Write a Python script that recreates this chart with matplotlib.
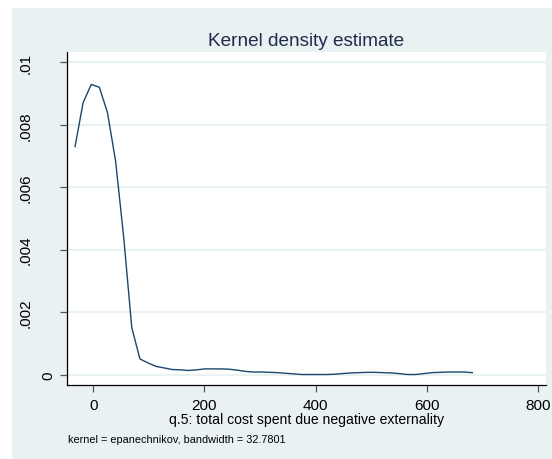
import matplotlib.pyplot as plt
from matplotlib.patches import Rectangle
from matplotlib.transforms import blended_transform_factory

plt.rcParams["font.family"] = ["Liberation Sans", "DejaVu Sans"]

# evaluation grid and estimated density (50 points)
grid_x = [-33.0, -18.4, -3.8, 10.8, 25.4, 40.0, 54.6, 69.2, 83.8, 98.4,
          113.0, 127.6, 142.2, 156.8, 171.4, 186.0, 200.6, 215.2, 229.8, 244.4,
          259.0, 273.6, 288.2, 302.8, 317.4, 332.0, 346.6, 361.2, 375.8, 390.4,
          405.0, 419.6, 434.2, 448.8, 463.4, 478.0, 492.6, 507.2, 521.8, 536.4,
          551.0, 565.6, 580.2, 594.8, 609.4, 624.0, 638.6, 653.2, 667.8, 682.4]
density = [0.00730, 0.00871, 0.00929, 0.00920, 0.00839, 0.00684, 0.00440, 0.00150, 0.00050, 0.00037,
           0.00026, 0.00021, 0.00016, 0.00015, 0.00013, 0.00015, 0.00018, 0.00018, 0.00018, 0.00017,
           0.00014, 0.00010, 0.00008, 0.00008, 0.00007, 0.00006, 0.00004, 0.00002, 0.00000, 0.00000,
           0.00000, 0.00000, 0.00001, 0.00003, 0.00005, 0.00006, 0.00007, 0.00007, 0.00006, 0.00005,
           0.00003, 0.00000, 0.00000, 0.00003, 0.00006, 0.00007, 0.00008, 0.00008, 0.00008, 0.00006]

xticks = [0, 200, 400, 600, 800]
yticks = [0, 0.002, 0.004, 0.006, 0.008, 0.01]
ylabels = ["0", ".002", ".004", ".006", ".008", ".01"]

bg = "#e9f1f3"
navy = "#1a476f"
W, H = 552, 460

fig = plt.figure(figsize=(W / 100, H / 100), dpi=100)
fig.patch.set_facecolor("white")
# graph region (starts a few pixels in from the top-left corner)
fig.patches.append(Rectangle((12 / W, 0), 1, 1 - 9 / H, transform=fig.transFigure,
                             facecolor=bg, edgecolor="none", zorder=-10))

ax_l, ax_r, ax_t, ax_b = 66.7, 546, 53.3, 385.7
ax = fig.add_axes([ax_l / W, 1 - ax_b / H, (ax_r - ax_l) / W, (ax_b - ax_t) / H])
ax.set_facecolor("white")

ax.plot(grid_x, density, color=navy, lw=1.0, zorder=3)

ax.set_xlim(-48, 815)
ax.set_ylim(-0.000326, 0.01032)

ax.set_xticks(xticks)
ax.set_xticklabels([str(v) for v in xticks])
ax.set_yticks(yticks)
ax.set_yticklabels([])

# vertical y labels, placed by hand (the short "0" sits closer to the axis)
ytrans = blended_transform_factory(ax.transAxes, ax.transData)
for y, lab in zip(yticks, ylabels):
    right_px = 55 if len(lab) == 1 else 32.5
    ax.text((right_px - ax_l) / (ax_r - ax_l), y, lab, transform=ytrans, rotation=90,
            ha="right", va="center", fontsize=11, clip_on=False)

for y in yticks:
    ax.axhline(y, color=bg, lw=1.6, zorder=1)

for s in ["top", "right"]:
    ax.spines[s].set_visible(False)
for s in ["left", "bottom"]:
    ax.spines[s].set_color("black")
    ax.spines[s].set_linewidth(0.9)

ax.tick_params(axis="both", direction="out", length=5, width=0.9, color="#555555",
               labelsize=11, labelcolor="black")
ax.tick_params(axis="x", pad=4.5)

ax.set_xlabel("q.5: total cost spent due negative externality", fontsize=10.1, labelpad=0)
ax.set_title("Kernel density estimate", fontsize=13.7, color="#1e2c4a", pad=5)

fig.text(68 / W, 1 - 440 / H, "kernel = epanechnikov, bandwidth = 32.7801",
         fontsize=7.85, va="center", ha="left")

fig.savefig("out.png", dpi=100, facecolor=fig.get_facecolor())
